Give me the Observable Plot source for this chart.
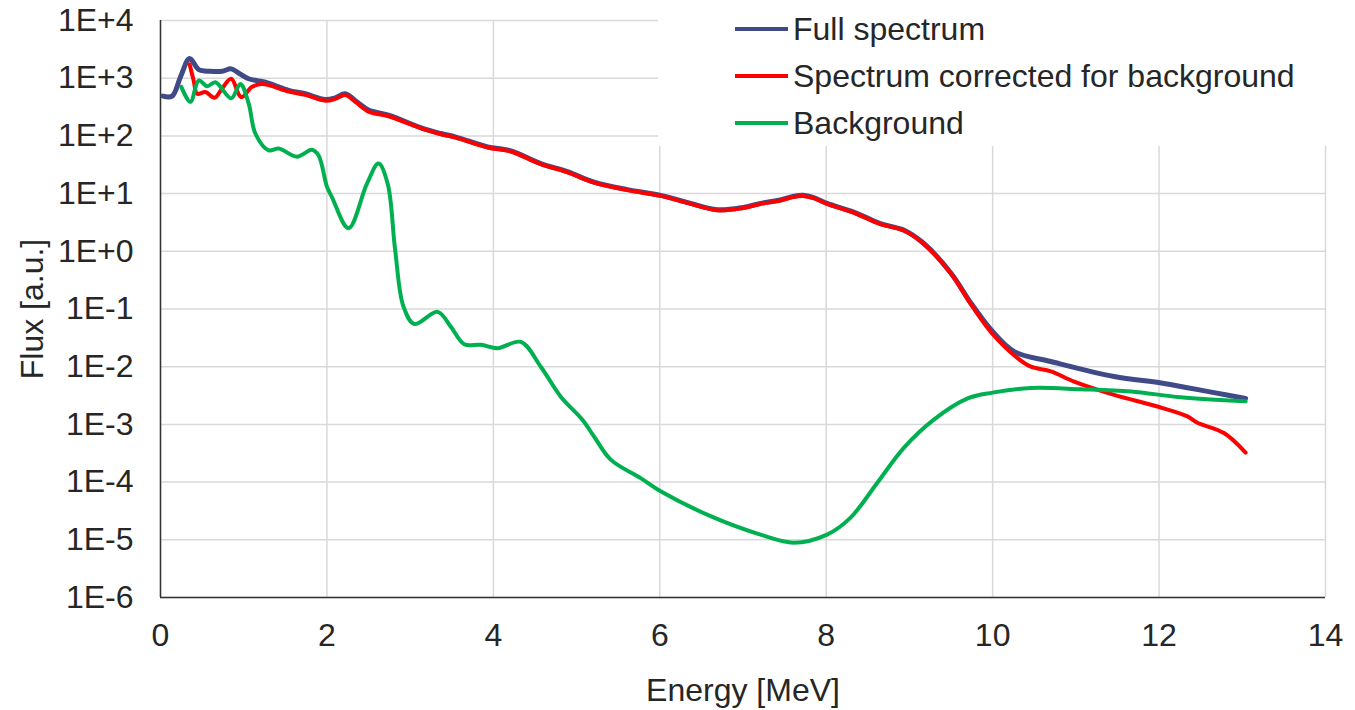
<!DOCTYPE html>
<html><head><meta charset="utf-8">
<script src="https://cdn.jsdelivr.net/npm/d3@7"></script>
<script src="https://cdn.jsdelivr.net/npm/@observablehq/plot@0.6"></script>
<style>
body{margin:0;background:#fff;font-family:"Liberation Sans",Arial,sans-serif;}
#wrap{position:relative;width:1355px;height:710px;}
#legend{position:absolute;left:658px;top:0;width:697px;height:146px;background:#fff;}
.item{position:absolute;left:77px;height:40px;display:flex;align-items:center;font-size:32px;color:#262626;white-space:nowrap;}
.sw{width:53px;height:4px;margin-right:5px;}
</style></head><body><div id="wrap"></div>
<script>
// ---- data ----
const xTicks = [0, 2, 4, 6, 8, 10, 12, 14];
const yTicks = [1e-6, 1e-5, 1e-4, 1e-3, 1e-2, 1e-1, 1e0, 1e1, 1e2, 1e3, 1e4];
const yTickLabels = ["1E-6", "1E-5", "1E-4", "1E-3", "1E-2", "1E-1", "1E+0", "1E+1", "1E+2", "1E+3", "1E+4"];

const seriesNames = ["Full spectrum", "Spectrum corrected for background", "Background"];
const seriesColors = ["#3F4A87", "#FF0000", "#00B050"];

const fullE = [0.03,0.14,0.24,0.35,0.46,0.6,0.74,0.85,0.95,1.06,1.26,1.54,1.74,1.98,2.1,2.22,2.35,2.5,2.74,3.15,3.37,3.55,3.93,4.21,4.57,4.89,5.21,5.61,6.01,6.35,6.69,7.0,7.21,7.45,7.6,7.72,7.85,8.01,8.33,8.65,8.93,9.17,9.5,9.74,9.98,10.26,10.7,11.46,12.06,12.66,13.04];
const fullF = [490,490,1050,2190,1410,1320,1320,1450,1200,977,851,617,537,427,457,537,398,282,229,135,110,95.5,64.6,55.0,33.1,24.0,15.8,11.7,9.33,6.92,5.25,5.75,6.76,7.76,8.91,9.33,8.51,6.76,4.79,3.02,2.34,1.38,0.417,0.126,0.0437,0.0182,0.0123,0.00676,0.00513,0.00355,0.00282];

const corrE = [0.35,0.40,0.44,0.54,0.65,0.74,0.85,0.97,1.10,1.22,1.54,1.74,1.98,2.1,2.22,2.35,2.5,2.74,3.15,3.37,3.55,3.93,4.21,4.57,4.89,5.21,5.61,6.01,6.35,6.69,7.0,7.21,7.45,7.6,7.72,7.85,8.01,8.33,8.65,8.93,9.17,9.5,9.74,9.98,10.3,10.46,10.7,10.98,11.46,11.98,12.34,12.46,12.78,13.04];
const corrF = [1740,891,537,575,457,661,977,468,708,794,589,513,407,437,513,380,263,219,132,107,93.3,63.1,53.7,32.4,23.4,15.5,11.5,9.12,6.76,5.13,5.62,6.61,7.59,8.71,9.12,8.32,6.61,4.68,2.95,2.29,1.35,0.407,0.120,0.0398,0.0141,0.0100,0.00832,0.00550,0.00324,0.00204,0.00138,0.00107,0.000708,0.000324];

const bgE = [0.25,0.36,0.46,0.56,0.66,0.85,0.96,1.06,1.14,1.30,1.42,1.64,1.82,1.90,2.0,2.06,2.26,2.48,2.62,2.73,2.82,2.92,3.05,3.33,3.49,3.65,3.85,4.05,4.33,4.57,4.81,5.07,5.21,5.41,5.77,6.01,6.61,7.21,7.61,8.01,8.29,8.61,8.93,9.29,9.70,10.0,10.46,11.06,11.66,12.26,13.04];
const bgF = [708,389,912,724,851,447,794,363,110,56.2,60.3,43.7,57.5,45.7,13.2,8.71,2.51,14.8,33.1,14.8,1.05,0.110,0.0550,0.0891,0.0490,0.0245,0.0240,0.0209,0.0269,0.0100,0.00302,0.00120,0.000617,0.000245,0.000117,0.0000692,0.0000257,0.0000123,0.00000891,0.0000123,0.0000240,0.0000955,0.000389,0.00120,0.00282,0.00355,0.00427,0.00407,0.00372,0.00295,0.00251];

// ---- tables built from the arrays ----
const toRows = (E, F) => E.map((e, i) => ({E: e, F: F[i]}));
const full = toRows(fullE, fullF);
const corr = toRows(corrE, corrF);
const bg = toRows(bgE, bgF);

const gridStyle = {stroke: "#d9d9d9", strokeOpacity: 1, strokeWidth: 1.5};
const lineStyle = {x: "E", y: "F", strokeWidth: 4, curve: "catmull-rom", strokeLinecap: "round", strokeLinejoin: "round"};

const chart = Plot.plot({
  width: 1355,
  height: 710,
  marginLeft: 160,
  marginRight: 30,
  marginTop: 20,
  marginBottom: 113,
  style: {fontFamily: "'Liberation Sans', Arial, sans-serif", fontSize: "32px", color: "#262626", background: "#fff", overflow: "visible"},
  x: {domain: [0, 14], ticks: xTicks, tickSize: 0, tickPadding: 26, label: "Energy [MeV]", labelAnchor: "center", labelArrow: false, labelOffset: 103},
  y: {type: "log", domain: [1e-6, 1e4], ticks: yTicks, tickFormat: d => yTickLabels[yTicks.indexOf(d)], tickSize: 0, tickPadding: 27, label: "Flux [a.u.]", labelAnchor: "center", labelArrow: false, labelOffset: 140},
  marks: [
    Plot.gridX(xTicks, gridStyle),
    Plot.gridY(yTicks, gridStyle),
    Plot.ruleX([0], {stroke: "#333", strokeWidth: 1.5}),
    Plot.ruleY([1e-6], {stroke: "#333", strokeWidth: 1.5}),
    Plot.line(full, {...lineStyle, strokeWidth: 5, stroke: seriesColors[0]}),
    Plot.line(corr, {...lineStyle, stroke: seriesColors[1]}),
    Plot.line(bg, {...lineStyle, stroke: seriesColors[2]})
  ]
});

const wrap = document.getElementById("wrap");
wrap.appendChild(chart);

const legend = document.createElement("div");
legend.id = "legend";
const centers = [29, 76, 123];
seriesNames.forEach((name, i) => {
  const it = document.createElement("div");
  it.className = "item";
  it.style.top = (centers[i] - 20) + "px";
  const sw = document.createElement("span");
  sw.className = "sw";
  sw.style.background = seriesColors[i];
  const t = document.createElement("span");
  t.textContent = name;
  it.appendChild(sw); it.appendChild(t);
  legend.appendChild(it);
});
wrap.appendChild(legend);
</script>
</body></html>
